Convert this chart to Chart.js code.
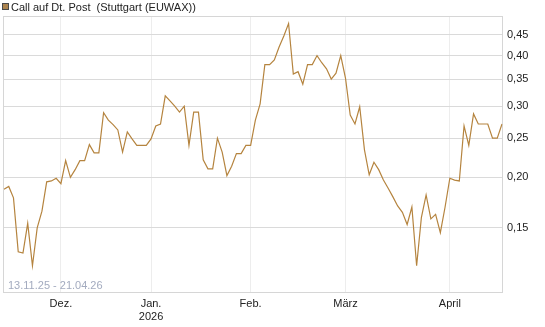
<!DOCTYPE html>
<html>
<head>
<meta charset="utf-8">
<script src="https://cdn.jsdelivr.net/npm/chart.js@4.4.1/dist/chart.umd.min.js"></script>
<style>
    html, body { margin: 0; padding: 0; background: #fff; }
    #wrap { width: 545px; height: 327px; position: relative; }
</style>
</head>
<body>
<div id="wrap"><canvas id="chart"></canvas></div>
<script>
// Kurs des Calls, ein Wert pro Handelstag (13.11.25 - 21.04.26)
const prices = [
    0.187, 0.190, 0.178, 0.131, 0.130, 0.154, 0.121, 0.150, 0.165, 0.195,
    0.196, 0.199, 0.193, 0.220, 0.200, 0.209, 0.220, 0.220, 0.241, 0.230,
    0.230, 0.289, 0.277, 0.270, 0.262, 0.231, 0.259, 0.249, 0.240, 0.240,
    0.240, 0.249, 0.268, 0.271, 0.318, 0.309, 0.300, 0.290, 0.300, 0.240,
    0.290, 0.290, 0.221, 0.210, 0.210, 0.250, 0.231, 0.202, 0.213, 0.229,
    0.229, 0.240, 0.240, 0.277, 0.304, 0.380, 0.380, 0.390, 0.420, 0.447,
    0.480, 0.360, 0.365, 0.340, 0.380, 0.380, 0.400, 0.384, 0.371, 0.350,
    0.362, 0.400, 0.352, 0.285, 0.271, 0.299, 0.234, 0.203, 0.218, 0.209,
    0.197, 0.188, 0.179, 0.170, 0.164, 0.153, 0.169, 0.121, 0.159, 0.181,
    0.158, 0.162, 0.146, 0.169, 0.199, 0.197, 0.196, 0.268, 0.240, 0.287,
    0.271, 0.271, 0.271, 0.250, 0.250, 0.271
];
const dayIndex = prices.map((_, i) => i);

// erster Handelstag jedes Monats
const monthIdx = [12, 31, 52, 72, 94];
const monthLabels = ["Dez.", ["Jan.", "2026"], "Feb.", "März", "April"];

const yTicks = [0.15, 0.20, 0.25, 0.30, 0.35, 0.40, 0.45];
const seriesName = "Call auf Dt. Post  (Stuttgart (EUWAX))";
const rangeText = "13.11.25 - 21.04.26";

const lineColor = "#b5843f";
const hGrid = "#dadada";
const vGrid = "#ededed";
const FONT = "'Liberation Sans', Arial, sans-serif";

Chart.defaults.font.family = FONT;
Chart.defaults.font.size = 11;
Chart.defaults.color = "#333";

// Rahmen, Legende oben links und Zeitraum unten links
const framePlugin = {
    id: "frame",
    beforeDatasetsDraw(chart) {
        const { ctx, chartArea: a } = chart;
        ctx.save();
        ctx.strokeStyle = "#d6d6d6";
        ctx.lineWidth = 1;
        ctx.strokeRect(Math.round(a.left) - 0.5, Math.round(a.top) + 0.5,
            Math.round(a.right - a.left) + 1, Math.round(a.bottom - a.top) - 1);

        ctx.font = "11px " + FONT;
        ctx.fillStyle = "#a3abbf";
        ctx.textBaseline = "middle";
        ctx.fillText(rangeText, a.left + 4, a.bottom - 7);

        ctx.fillStyle = "#ad8550";
        ctx.fillRect(2, 3, 7, 7);
        ctx.strokeStyle = "#4a4a4a";
        ctx.strokeRect(2.5, 3.5, 6, 6);
        ctx.fillStyle = "#222";
        ctx.textBaseline = "alphabetic";
        ctx.fillText(seriesName, 11, 11);
        ctx.restore();
    }
};

new Chart(document.getElementById("chart"), {
    type: "line",
    data: {
        labels: dayIndex,
        datasets: [{
            label: seriesName,
            data: prices,
            borderColor: lineColor,
            backgroundColor: "#ad8550",
            borderWidth: 1.2,
            pointRadius: 0,
            tension: 0,
            fill: false
        }]
    },
    options: {
        responsive: true,
        maintainAspectRatio: false,
        animation: false,
        layout: { padding: { left: 4, right: 0, top: 16, bottom: 0 } },
        plugins: {
            tooltip: { enabled: false },
            legend: { display: false }
        },
        scales: {
            x: {
                type: "category",
                offset: false,
                afterFit: (s) => { s.height = 34; },
                grid: {
                    drawTicks: false,
                    color: (c) => monthIdx.includes(c.index) ? vGrid : "rgba(0,0,0,0)"
                },
                border: { display: false },
                ticks: {
                    autoSkip: false,
                    maxRotation: 0,
                    padding: 4,
                    color: "#222",
                    font: { size: 11 },
                    callback: (v, i) => {
                        const k = monthIdx.indexOf(i);
                        return k >= 0 ? monthLabels[k] : "";
                    }
                }
            },
            y: {
                type: "logarithmic",
                position: "right",
                min: 0.1036,
                max: 0.501,
                afterFit: (s) => { s.width = 43; },
                afterBuildTicks: (s) => { s.ticks = yTicks.map(v => ({ value: v })); },
                grid: { drawTicks: false, color: hGrid },
                border: { display: false },
                ticks: {
                    padding: 5,
                    color: "#222",
                    font: { size: 11 },
                    callback: (v) => Number(v).toFixed(2).replace(".", ",")
                }
            }
        }
    },
    plugins: [framePlugin]
});
</script>
</body>
</html>
